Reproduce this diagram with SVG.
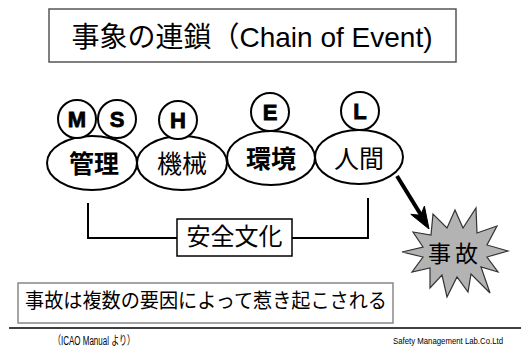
<svg xmlns="http://www.w3.org/2000/svg" width="521" height="347" viewBox="0 0 521 347">
<defs>
<style>
.jp{font-family:"Liberation Sans","Noto Sans CJK JP",sans-serif;fill:#000}
.node{fill:#fff;stroke:#000;stroke-width:2}
.big{font-size:25px;text-anchor:middle}
.let{font-family:"Liberation Sans",sans-serif;font-size:22px;text-anchor:middle;font-weight:bold;stroke:#000;stroke-width:0.8}
.conn{fill:none;stroke:#000;stroke-width:2}
</style>
</defs>
<rect width="521" height="347" fill="#fff"/>
<g id="title">
<rect x="49" y="9" width="407" height="53" fill="#fff" stroke="#555" stroke-width="1.5"/>
<text class="jp" x="252" y="47" font-size="28" text-anchor="middle">事象の連鎖（Chain of Event)</text>
</g>
<g id="connectors">
<path class="conn" d="M88,203 V238 H177 M292,238 H368 V198"/>
<line x1="397" y1="176" x2="421" y2="215" stroke="#000" stroke-width="4"/>
<polygon points="429,229 410.8,214.3 420.7,215.3 424.4,206.1" fill="#000" stroke="#000" stroke-width="1"/>
</g>
<g id="kanri">
<ellipse class="node" cx="92" cy="163" rx="45" ry="27"/>
<text class="jp big" x="94" y="173" font-weight="bold">管理</text>
</g>
<g id="kikai">
<ellipse class="node" cx="182" cy="163" rx="45" ry="27"/>
<text class="jp big" x="182" y="173">機械</text>
</g>
<g id="kankyo">
<ellipse class="node" cx="271" cy="158" rx="44" ry="27"/>
<text class="jp big" x="271" y="168" font-weight="bold">環境</text>
</g>
<g id="ningen">
<ellipse class="node" cx="359" cy="157" rx="44" ry="27"/>
<text class="jp big" x="359" y="168">人間</text>
</g>
<g id="M">
<circle class="node" cx="77" cy="119" r="19"/>
<text class="let" x="77" y="127">M</text>
</g>
<g id="S">
<circle class="node" cx="117" cy="119" r="19"/>
<text class="let" x="117" y="127" font-weight="normal" stroke-width="0">S</text>
</g>
<g id="H">
<circle class="node" cx="178" cy="120" r="19"/>
<text class="let" x="178" y="128">H</text>
</g>
<g id="E">
<circle class="node" cx="270" cy="112" r="19"/>
<text class="let" x="270" y="120">E</text>
</g>
<g id="L">
<circle class="node" cx="360" cy="111" r="19"/>
<text class="let" x="360" y="119">L</text>
</g>
<g id="anzen">
<rect x="177" y="219" width="115" height="37" fill="#fff" stroke="#000" stroke-width="1.5"/>
<text class="jp" x="234.5" y="245" font-size="24" text-anchor="middle">安全文化</text>
</g>
<g id="jiko">
<polygon points="476,208 477,233 497,226 487,245 508,251 487,257 498,272 481,267 490,293 471,274 468,292 457,277 447,297 442,275 430,288 430,268 412,272 423,257 402,252 423,247 413,232 431,235 433,214 447,228 455,210 463,228" fill="#b3b3b3" stroke="#333" stroke-width="1.2" stroke-linejoin="miter"/>
<text class="jp" x="455" y="262" font-size="23" text-anchor="middle" letter-spacing="4">事故</text>
</g>
<g id="note">
<rect x="18" y="283" width="375" height="40" fill="#fff" stroke="#888" stroke-width="1.5"/>
<text class="jp" x="206" y="308" font-size="20" text-anchor="middle" textLength="362" lengthAdjust="spacingAndGlyphs">事故は複数の要因によって惹き起こされる</text>
</g>
<line x1="9" y1="328" x2="521" y2="328" stroke="#000" stroke-width="1.5"/>
<text class="jp" x="53" y="345" font-size="12" textLength="82" lengthAdjust="spacingAndGlyphs">（ICAO  Manual  より）</text>
<text x="393" y="344" font-family="Liberation Sans,sans-serif" font-size="9" textLength="110" lengthAdjust="spacingAndGlyphs">Safety Management  Lab.Co.Ltd</text>
</svg>
